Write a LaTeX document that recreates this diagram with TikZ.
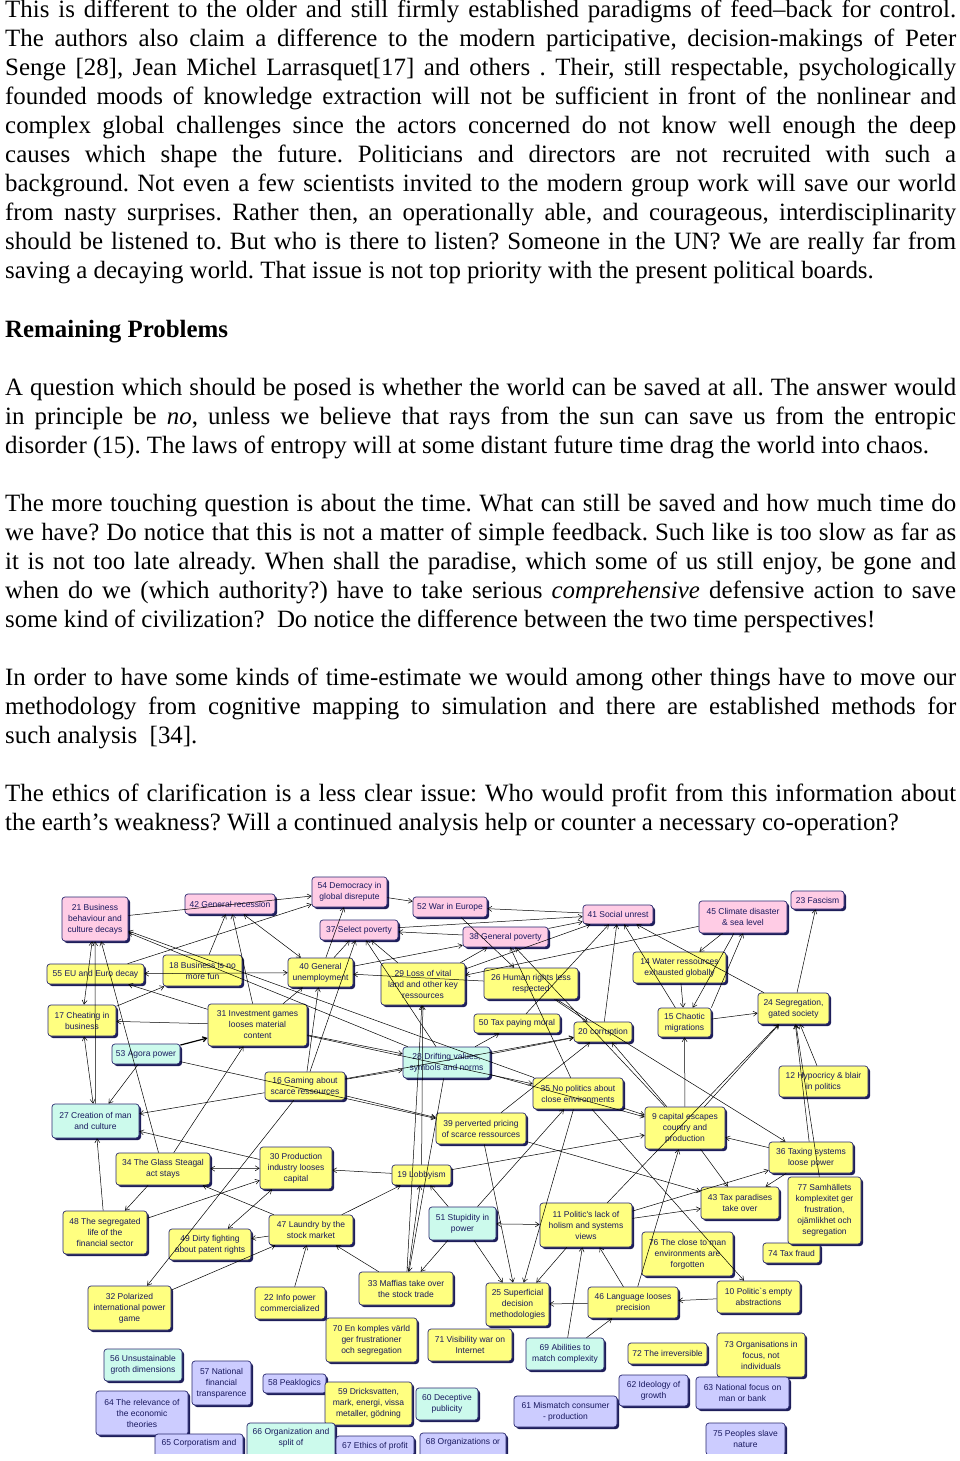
\documentclass[tikz,border=0pt]{standalone}
\usepackage{fontspec}
\setmainfont{Liberation Serif}
\newfontfamily\boxfont{Liberation Sans}
\usetikzlibrary{arrows.meta,shadows}
\hyphenpenalty=10000
\tolerance=10000
\frenchspacing

\definecolor{boxtext}{RGB}{25,25,95}
\definecolor{boxline}{RGB}{40,40,110}
\definecolor{boxshade}{RGB}{30,30,90}
\definecolor{pinkfill}{RGB}{255,204,229}
\definecolor{yelfill}{RGB}{255,255,128}
\definecolor{grnfill}{RGB}{204,250,236}
\definecolor{lavfill}{RGB}{204,204,255}

\tikzset{
  cmap/.style={draw=boxline, line width=0.7pt, rounded corners=3pt, inner sep=1pt,
    align=center, text=boxtext, font=\boxfont\fontsize{8.5}{11}\selectfont,
    drop shadow={shadow xshift=2pt, shadow yshift=-2pt, fill=boxshade, opacity=1}},
  pinkbox/.style={cmap, fill=pinkfill},
  yelbox/.style={cmap, fill=yelfill},
  grnbox/.style={cmap, fill=grnfill},
  lavbox/.style={cmap, fill=lavfill},
  wh/.style 2 args={minimum width=#1pt, minimum height=#2pt},
  link/.style={line width=0.5pt, ->},
  dlink/.style={line width=0.5pt, <->},
  para/.style={anchor=base west, inner sep=0pt, text width=951pt, align=justify,
    font=\fontsize{24.9}{29}\selectfont},
}

\begin{document}
\begin{tikzpicture}[x=1pt,y=-1pt,>={Straight Barb[length=4pt,width=5pt]}]
\useasboundingbox (0,0) rectangle (960,1461);

% the page text
\node[para] (p1) at (5,18) {This is different to the older and still firmly established paradigms of feed–back for control.\linebreak
The authors also claim a difference to the modern participative, decision-makings of Peter\linebreak
Senge [28], Jean Michel Larrasquet[17] and others . Their, still respectable, psychologically\linebreak
founded moods of knowledge extraction will not be sufficient in front of the nonlinear and\linebreak
complex global challenges since the actors concerned do not know well enough the deep\linebreak
causes which shape the future. Politicians and directors are not recruited with such a\linebreak
background. Not even a few scientists invited to the modern group work will save our world\linebreak
from nasty surprises. Rather then, an operationally able, and courageous, interdisciplinarity\linebreak
should be listened to. But who is there to listen? Someone in the UN? We are really far from\linebreak
saving a decaying world. That issue is not top priority with the present political boards.};
\node[anchor=base west, inner sep=0pt, font=\bfseries\fontsize{24.9}{29}\selectfont] (head) at (5,337) {Remaining Problems};
\node[para] (p2) at (5,395) {A question which should be posed is whether the world can be saved at all. The answer would\linebreak
in principle be \emph{no}, unless we believe that rays from the sun can save us from the entropic\linebreak
disorder (15). The laws of entropy will at some distant future time drag the world into chaos.};
\node[para] (p3) at (5,511) {The more touching question is about the time. What can still be saved and how much time do\linebreak
we have? Do notice that this is not a matter of simple feedback. Such like is too slow as far as\linebreak
it is not too late already. When shall the paradise, which some of us still enjoy, be gone and\linebreak
when do we (which authority?) have to take serious \emph{comprehensive} defensive action to save\linebreak
some kind of civilization? \ Do notice the difference between the two time perspectives!};
\node[para] (p4) at (5,685) {In order to have some kinds of time-estimate we would among other things have to move our\linebreak
methodology from cognitive mapping to simulation and there are established methods for\linebreak
such analysis \ [34].};
\node[para] (p5) at (5,801) {The ethics of clarification is a less clear issue: Who would profit from this information about\linebreak
the earth’s weakness? Will a continued analysis help or counter a necessary co-operation?};

% the cognitive map
\begin{scope}
\clip (0,860) rectangle (960,1453);
\node[pinkbox, wh={66}{44}] (n21) at (95,919) {21 Business\\behaviour and\\culture decays};
\node[pinkbox, wh={90}{20}] (n42) at (230,904) {42 General recession};
\node[pinkbox, wh={75}{30}] (n54) at (349.5,892) {54 Democracy in\\global disrepute};
\node[pinkbox, wh={74}{20}] (n52) at (450,907) {52 War in Europe};
\node[pinkbox, wh={78}{20}] (n37) at (359,930) {37 Select poverty};
\node[pinkbox, wh={85}{20}] (n38) at (505.5,937) {38 General poverty};
\node[pinkbox, wh={70}{19}] (n41) at (618,914.5) {41 Social unrest};
\node[pinkbox, wh={88}{32}] (n45) at (743,917) {45 Climate disaster\\\& sea level};
\node[pinkbox, wh={53}{18}] (n23) at (817.5,900) {23 Fascism};

\node[yelbox, wh={97}{20}] (n55) at (95.5,974) {55 EU and Euro decay};
\node[yelbox, wh={79}{31}] (n18) at (202.5,970.5) {18 Business is no\\more fun};
\node[yelbox, wh={65}{29}] (n40) at (320.5,972.5) {40 General\\unemployment};
\node[yelbox, wh={84}{42}] (n29) at (423,984) {29 Loss of vital\\land and other key\\ressources};
\node[yelbox, wh={94}{31}] (n26) at (531,983.5) {26 Human rights less\\respected};
\node[yelbox, wh={93}{31}] (n14) at (679.5,967.5) {14 Water ressources\\exhausted globally};
\node[yelbox, wh={71}{31}] (n24) at (793.5,1008.5) {24 Segregation,\\gated society};
\node[yelbox, wh={68}{31}] (n17) at (82,1020.5) {17 Cheating in\\business};
\node[yelbox, wh={99}{42}] (n31) at (257.5,1025) {31 Investment games\\looses material\\content};
\node[yelbox, wh={86}{19}] (n50) at (517,1023.5) {50 Tax paying moral};
\node[yelbox, wh={58}{20}] (n20) at (603,1032) {20 corruption};
\node[yelbox, wh={53}{29}] (n15) at (684.5,1022.5) {15 Chaotic\\migrations};

\node[grnbox, wh={68}{20}] (n53) at (146,1054) {53 Agora power};
\node[grnbox, wh={87}{31}] (n28) at (446.5,1062.5) {28 Drifting values,\\symbols and norms};
\node[yelbox, wh={80}{28}] (n16) at (305,1086) {16 Gaming about\\scarce ressources};
\node[yelbox, wh={90}{31}] (n35) at (578,1093.5) {35 No politics about\\close environments};
\node[yelbox, wh={89}{31}] (n12) at (823.5,1081.5) {12 Hypocricy \& blair\\in politics};
\node[grnbox, wh={87}{34}] (n27) at (95.5,1121) {27 Creation of man\\and culture};
\node[yelbox, wh={90}{31}] (n39) at (481,1128.5) {39 perverted pricing\\of scarce ressources};
\node[yelbox, wh={80}{42}] (n9) at (685,1128) {9 capital escapes\\country and\\production};
\node[yelbox, wh={84}{31}] (n36) at (811,1157.5) {36 Taxing systems\\loose power};

\node[yelbox, wh={94}{32}] (n34) at (163,1169) {34 The Glass Steagal\\act stays};
\node[yelbox, wh={72}{42}] (n30) at (296,1168) {30 Production\\industry looses\\capital};
\node[yelbox, wh={59}{20}] (n19) at (421.5,1175) {19 Lobbyism};
\node[yelbox, wh={84}{43}] (n48) at (105,1232.5) {48 The segregated\\life of the\\financial sector};
\node[yelbox, wh={82}{31}] (n49) at (210,1244.5) {49 Dirty fighting\\about patent rights};
\node[yelbox, wh={84}{30}] (n47) at (311,1230) {47 Laundry by the\\stock market};
\node[grnbox, wh={67}{33}] (n51) at (462.5,1223.5) {51 Stupidity in\\power};
\node[yelbox, wh={92}{44}] (n11) at (586,1225) {11 Politic's lack of\\holism and systems\\views};
\node[yelbox, wh={78}{32}] (n43) at (740,1203) {43 Tax paradises\\take over};
\node[yelbox, wh={57}{20}] (n74) at (791.5,1253) {74 Tax fraud};
\node[yelbox, wh={73}{67}] (n77) at (824.5,1210.5) {77 Samhällets\\komplexitet ger\\frustration,\\ojämlikhet och\\segregation};
\node[yelbox, wh={91}{44}] (n76) at (687.5,1254) {76 The close to man\\environments are\\forgotten};

\node[yelbox, wh={83}{44}] (n32) at (129.5,1308) {32 Polarized\\international power\\game};
\node[yelbox, wh={70}{32}] (n22) at (290,1303) {22 Info power\\commercialized};
\node[yelbox, wh={94}{33}] (n33) at (406,1288.5) {33 Maffias take over\\the stock trade};
\node[yelbox, wh={63}{43}] (n25) at (517.5,1304.5) {25 Superficial\\decision\\methodologies};
\node[yelbox, wh={90}{31}] (n46) at (633,1302.5) {46 Language looses\\precision};
\node[yelbox, wh={83}{32}] (n10) at (758.5,1297) {10 Politic`s empty\\abstractions};
\node[yelbox, wh={91}{44}] (n70) at (371.5,1340) {70 En komples värld\\ger frustrationer\\och segregation};
\node[yelbox, wh={84}{32}] (n71) at (470,1345) {71 Visibility war on\\Internet};
\node[grnbox, wh={78}{32}] (n69) at (565,1354) {69 Abilities to\\match complexity};
\node[yelbox, wh={79}{21}] (n72) at (667.5,1353.5) {72 The irreversible};
\node[yelbox, wh={88}{44}] (n73) at (761,1355) {73 Organisations in\\focus, not\\individuals};

\node[grnbox, wh={78}{32}] (n56) at (143,1365) {56 Unsustainable\\groth dimensions};
\node[lavbox, wh={59}{44}] (n57) at (221.5,1383) {57 National\\financial\\transparence};
\node[lavbox, wh={63}{19}] (n58) at (294.5,1383.5) {58 Peaklogics};
\node[yelbox, wh={87}{43}] (n59) at (368.5,1403.5) {59 Dricksvatten,\\mark, energi, vissa\\metaller, gödning};
\node[grnbox, wh={62}{32}] (n60) at (447,1404) {60 Deceptive\\publicity};
\node[lavbox, wh={103}{31}] (n61) at (565.5,1411.5) {61 Mismatch consumer\\- production};
\node[lavbox, wh={69}{31}] (n62) at (653.5,1390.5) {62 Ideology of\\growth};
\node[lavbox, wh={93}{32}] (n63) at (742.5,1393) {63 National focus on\\man or bank};
\node[lavbox, wh={92}{44}] (n64) at (142,1413) {64 The relevance of\\the economic\\theories};
\node[lavbox, wh={88}{32}] (n65) at (199,1450) {65 Corporatism and\\\strut};
\node[grnbox, wh={88}{43}] (n66) at (291,1444.5) {66 Organization and\\split of\\\strut};
\node[lavbox, wh={78}{20}] (n67) at (375,1446) {67 Ethics of profit};
\node[lavbox, wh={86}{32}] (n68) at (463,1449) {68 Organizations or\\\strut};
\node[lavbox, wh={79}{32}] (n75) at (745.5,1439) {75 Peoples slave\\nature};

% links, upper part
\draw[link] (n21) -- (n54);
\draw[link] (n55) -- (n54);
\draw[link] (n18) -- (n42);
\draw[link] (n31) -- (n42);
\draw[dlink] (n40) -- (n42);
\draw[dlink] (n55) -- (n40);
\draw[link] (n17) -- (n18);
\draw[link] (n31) -- (n55);
\draw[dlink] (n17) -- (n21);
\draw[link] (n27) -- (n21);
\draw[link] (n34) -- (n21);
\draw[link] (n28) -- (n21);
\draw[link] (n35) -- (n21);
\draw[link] (n40) -- (n54);
\draw[link] (n40) -- (n37);
\draw[link] (n54) -- (n52);
\draw[link] (n38) -- (n37);
\draw[link] (n37) -- (n41);
\draw[link] (n38) -- (n41);
\draw[link] (n41) -- (n52);
\draw[link] (n40) -- (n38);
\draw[link] (n52) -- (n26);
\draw[link] (n29) -- (n38);
\draw[link] (n35) -- (n38);
\draw[link] (n9) -- (n38);
\draw[link] (n45) -- (n29);
\draw[link] (n16) -- (n37);
\draw[link] (n29) -- (n37);
\draw[link] (n28) -- (n37);
\draw[link] (n29) -- (n41);
\draw[link] (n20) -- (n41);
\draw[link] (n50) -- (n41);
\draw[link] (n45) -- (n14);
\draw[link] (n45) -- (n15);
\draw[link] (n15.north east) -- (n45.south);
\draw[link] (n14) -- (n15);
\draw[link] (n15) -- (n41);
\draw[link] (n24) -- (n41);
\draw[link] (n24) -- (n23);
\draw[link] (n15) -- (n24);
\draw[link] (n16) -- (n40);
\draw[link] (n31) -- (n40);
\draw[link] (n19) -- (n29);
\draw[link] (n33) -- (n29);
\draw[link] (n26) -- (n40);
\draw[link] (n26) -- (n36);
% links, middle part
\draw[dlink] (n17) -- (n27);
\draw[link] (n31) -- (n17);
\draw[link, line width=1.2pt] (n53) -- (n31);
\draw[link] (n53) -- (n27);
\draw[link] (n16) -- (n27);
\draw[link] (n30) -- (n27);
\draw[link] (n34) -- (n31);
\draw[link] (n48) -- (n27);
\draw[link] (n53) -- (n39);
\draw[link] (n16) -- (n28);
\draw[link] (n16) -- (n39);
\draw[link] (n31) -- (n28);
\draw[link] (n28) -- (n50);
\draw[link] (n28) -- (n20);
\draw[link] (n16) -- (n20);
\draw[link] (n9) -- (n20);
\draw[link] (n39) -- (n20);
\draw[link] (n9) -- (n24);
\draw[link] (n11) -- (n24);
\draw[link] (n12) -- (n24);
\draw[link] (n36) -- (n24);
\draw[link] (n36) -- (n9);
\draw[link] (n9) -- (n15);
\draw[link] (n35) -- (n9);
\draw[link] (n28) -- (n9);
\draw[link] (n31) -- (n35);
\draw[link] (n26) -- (n20);
% links, lower part
\draw[dlink] (n34) -- (n30);
\draw[link] (n47) -- (n34);
\draw[link] (n34) -- (n48);
\draw[link] (n48) -- (n30);
\draw[dlink] (n49) -- (n30);
\draw[link] (n47) -- (n49);
\draw[link] (n16) -- (n32);
\draw[link] (n32) -- (n47);
\draw[link] (n19) -- (n30);
\draw[link] (n51) -- (n19);
\draw[link] (n33) -- (n19);
\draw[link] (n47) -- (n19);
\draw[dlink] (n51) -- (n11);
\draw[link] (n51) -- (n25);
\draw[link] (n51) -- (n33);
\draw[link] (n28) -- (n33);
\draw[link] (n11) -- (n25);
\draw[link] (n35) -- (n25);
\draw[link] (n39) -- (n25);
\draw[link] (n11) -- (n43);
\draw[link] (n36) -- (n43);
\draw[link] (n39) -- (n43);
\draw[link] (n9) -- (n43);
\draw[link] (n11) -- (n36);
\draw[link] (n46) -- (n11);
\draw[link] (n10) -- (n46);
\draw[link] (n77) -- (n24);
\draw[link] (n35) -- (n10);
\draw[link] (n22) -- (n47);
\draw[link] (n33) -- (n47);
\draw[link] (n46) -- (n9);
\draw[link] (n46) -- (n25);
\draw[link] (n69) -- (n46);
\draw[link] (n69) -- (n11);
\draw[link] (n51) -- (n35);
\draw[link] (n19) -- (n9);
\end{scope}
\end{tikzpicture}
\end{document}
